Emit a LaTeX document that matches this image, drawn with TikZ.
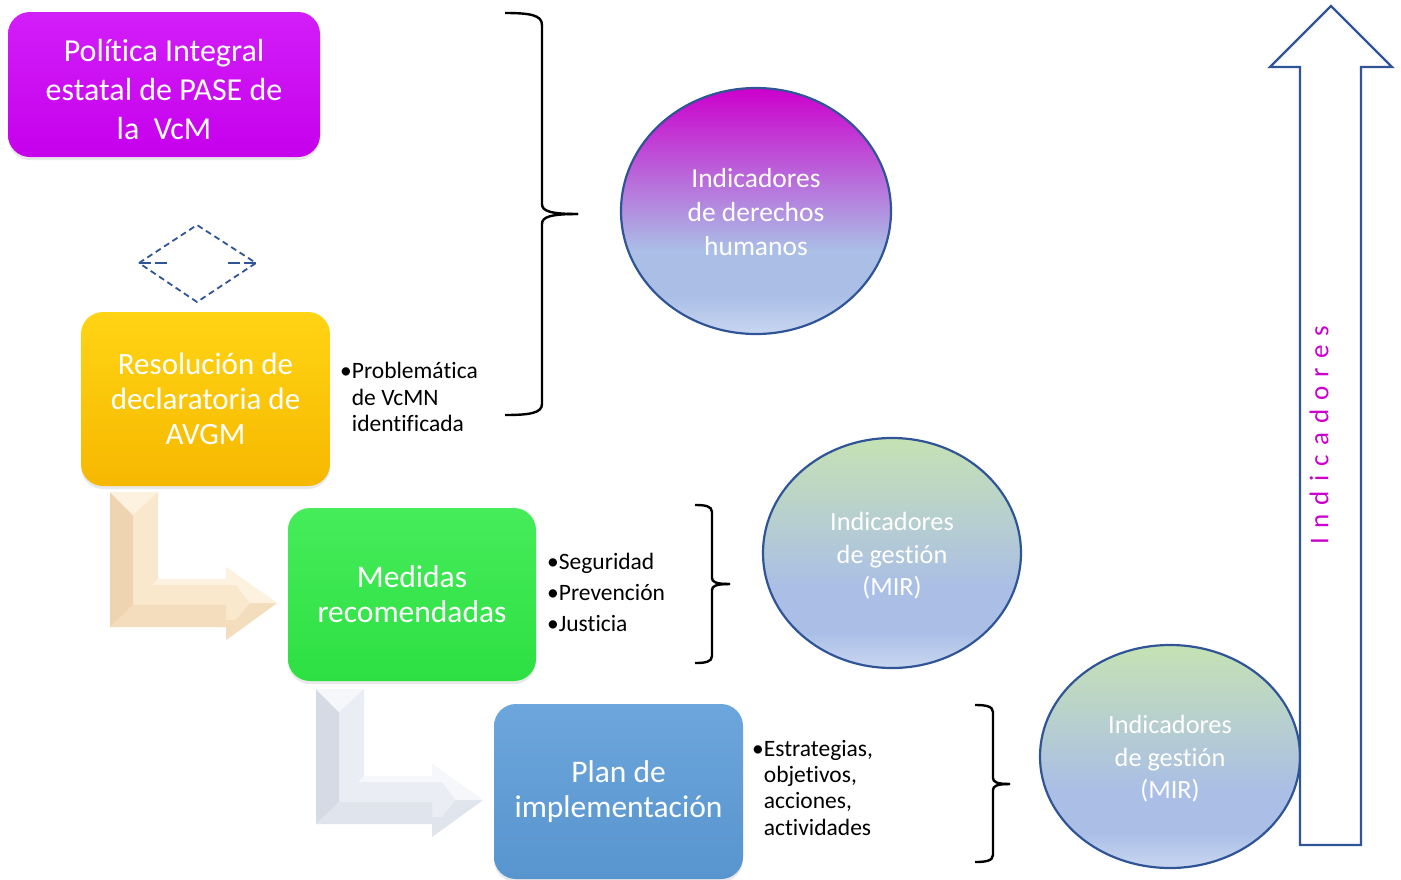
\documentclass[tikz,border=0pt]{standalone}
\usepackage{fontspec}
\setmainfont[Ligatures=NoCommon]{Carlito}
\newfontfamily\spacedfont[LetterSpace=34,Ligatures=NoCommon]{Carlito}
\usetikzlibrary{shapes.geometric,shadows}
\definecolor{magtop}{RGB}{210,30,248}
\definecolor{magbot}{RGB}{198,0,236}
\definecolor{yeltop}{RGB}{255,212,20}
\definecolor{yelbot}{RGB}{246,184,0}
\definecolor{grntop}{RGB}{70,236,90}
\definecolor{grnbot}{RGB}{45,224,66}
\definecolor{blutop}{RGB}{108,166,220}
\definecolor{blubot}{RGB}{88,148,206}
\definecolor{edge}{RGB}{47,85,151}
\definecolor{elmag}{RGB}{204,0,204}
\definecolor{elblue}{RGB}{170,190,230}
\definecolor{ellight}{RGB}{200,214,240}
\definecolor{elgreen}{RGB}{197,226,180}
\definecolor{indmag}{RGB}{204,0,204}
\definecolor{cream}{RGB}{250,232,205}
\definecolor{creamA}{RGB}{238,212,176}
\definecolor{creamB}{RGB}{244,221,188}
\definecolor{creamC}{RGB}{253,242,224}
\definecolor{grey}{RGB}{234,237,243}
\definecolor{greyA}{RGB}{214,218,228}
\definecolor{greyB}{RGB}{224,228,236}
\definecolor{greyC}{RGB}{246,247,250}
\pgfdeclareverticalshading{dhshade}{100bp}{color(0bp)=(ellight); color(25bp)=(ellight); color(33bp)=(elblue); color(42bp)=(elblue); color(75bp)=(elmag); color(100bp)=(elmag)}
\pgfdeclareverticalshading{mirshade}{100bp}{color(0bp)=(ellight); color(25bp)=(ellight); color(33bp)=(elblue); color(42bp)=(elblue); color(75bp)=(elgreen); color(100bp)=(elgreen)}
\newcommand\Lbevelarrow[5]{%
  \begin{scope}[shift={#1}]
    \fill[#2] (110,492) -- (158,492) -- (158,579) -- (226,579) -- (226,567) -- (277,603) -- (226,640) -- (226,627) -- (110,627) -- cycle;
    \fill[#3] (110,492) -- (133,515) -- (133,605) -- (110,627) -- cycle;
    \fill[#4] (110,627) -- (133,605) -- (226,605) -- (226,627) -- cycle;
    \fill[#5] (110,492) -- (158,492) -- (133,515) -- cycle;
    \fill[#4] (226,640) -- (277,603) -- (250,603) -- (236,620) -- (226,620) -- cycle;
    \fill[#5] (226,567) -- (277,603) -- (250,603) -- (236,585) -- (226,585) -- cycle;
    \fill[#5] (158,579) -- (226,579) -- (226,585) -- (152,585) -- cycle;
  \end{scope}}
\begin{document}
\begin{tikzpicture}[x=1pt,y=-1pt,
  box/.style={rounded corners=22pt, inner sep=0pt, text=white, align=center,
    drop shadow={shadow xshift=0pt, shadow yshift=-3pt, opacity=0.18}},
  boxtext/.style={inner sep=0pt, text=white, align=center},
  oval/.style={ellipse, inner sep=0pt, draw=edge, line width=2.2pt, text=white, align=center},
  brace/.style={line width=2.4pt, black},
  bullets/.style={anchor=north west, align=left, inner sep=0pt, text=black}]
\useasboundingbox (0,0) rectangle (1401,879);

% L-shaped bevelled arrows
\Lbevelarrow{(0,0)}{cream}{creamA}{creamB}{creamC}
\Lbevelarrow{(206,197)}{grey}{greyA}{greyB}{greyC}

% boxes
\node[box, top color=magtop, bottom color=magbot, minimum width=312pt, minimum height=145pt] (pol) at (164,84.5) {};
\node[boxtext, font=\fontsize{32}{39}\selectfont] (poltext) at (164,90) {Política Integral\\estatal de PASE de\\la\ \ VcM};
\node[box, top color=yeltop, bottom color=yelbot, minimum width=249pt, minimum height=174pt,
  font=\fontsize{31}{35}\selectfont] (res) at (205.5,399) {Resolución de\\declaratoria de\\AVGM};
\node[box, top color=grntop, bottom color=grnbot, minimum width=248pt, minimum height=173pt,
  font=\fontsize{31.5}{35}\selectfont] (med) at (412,594.5) {Medidas\\recomendadas};
\node[box, top color=blutop, bottom color=blubot, minimum width=249pt, minimum height=175pt,
  font=\fontsize{31.5}{35}\selectfont] (plan) at (618.5,791.5) {Plan de\\implementación};

% dashed diamond
\coordinate (dl) at (139,263);
\coordinate (dt) at (197,225);
\coordinate (dr) at (256,263);
\coordinate (db) at (197,302);
\draw[edge, line width=1.8pt, dash pattern=on 6pt off 4pt] (dl) -- (dt) -- (dr) -- (db) -- cycle;
\draw[edge, line width=1.8pt, dash pattern=on 12pt off 4pt] (dl) -- ++(29,0);
\draw[edge, line width=1.8pt, dash pattern=on 12pt off 4pt] (dr) -- ++(-29,0);

% bullet texts
\node[bullets, font=\fontsize{23.5}{26.5}\selectfont] (b1) at (340,362) {•Problemática\\\hphantom{•}de VcMN\\\hphantom{•}identificada};
\node[bullets, font=\fontsize{23.5}{31}\selectfont] (b2) at (547,553) {•Seguridad\\•Prevención\\•Justicia};
\node[bullets, font=\fontsize{23.5}{26.3}\selectfont] (b3) at (752,740) {•Estrategias,\\\hphantom{•}objetivos,\\\hphantom{•}acciones,\\\hphantom{•}actividades};

% braces
\draw[brace] (505,13) .. controls (530,13) and (542,15) .. (542,25) -- (542,204)
  .. controls (542,211) and (550,214) .. (578,214);
\draw[brace] (578,214) .. controls (550,214) and (542,217) .. (542,224) -- (542,404)
  .. controls (542,413) and (530,415) .. (505,415);
\draw[brace] (695,505) .. controls (705,505) and (712,506) .. (712,512) -- (712,578)
  .. controls (712,582) and (716,584) .. (730,584);
\draw[brace] (730,584) .. controls (716,584) and (712,586) .. (712,590) -- (712,656)
  .. controls (712,662) and (705,663) .. (695,663);
\draw[brace] (975,705) .. controls (985,705) and (993,706) .. (993,712) -- (993,778)
  .. controls (993,782) and (997,784) .. (1010,784);
\draw[brace] (1010,784) .. controls (997,784) and (993,786) .. (993,790) -- (993,855)
  .. controls (993,861) and (985,862) .. (975,862);

% ellipses
\node[oval, shading=dhshade, minimum width=270pt, minimum height=246pt] (dh) at (756,211) {};
\node[boxtext, font=\fontsize{27.5}{34}\selectfont] (dhtext) at (756,212) {Indicadores\\de derechos\\humanos};
\node[oval, shading=mirshade, minimum width=258pt, minimum height=230pt] (mir1) at (892,553) {};
\node[boxtext, font=\fontsize{26.3}{32.5}\selectfont] (mir1text) at (892,556) {Indicadores\\de gestión\\(MIR)};
\node[oval, shading=mirshade, minimum width=260pt, minimum height=223pt] (mir2) at (1170,756.5) {};
\node[boxtext, font=\fontsize{26.3}{32.5}\selectfont] (mir2text) at (1170,759) {Indicadores\\de gestión\\(MIR)};

% big up arrow
\draw[edge, line width=2.4pt, line join=miter, fill=white] (1300,845) -- (1300,67) -- (1270,67) -- (1331,6)
  -- (1392,67) -- (1361,67) -- (1361,845) -- cycle;
\node[rotate=90, text=indmag, inner sep=0pt, font=\spacedfont\fontsize{27}{30}\selectfont] (ind) at (1319,435) {Indicadores};
\end{tikzpicture}
\end{document}
